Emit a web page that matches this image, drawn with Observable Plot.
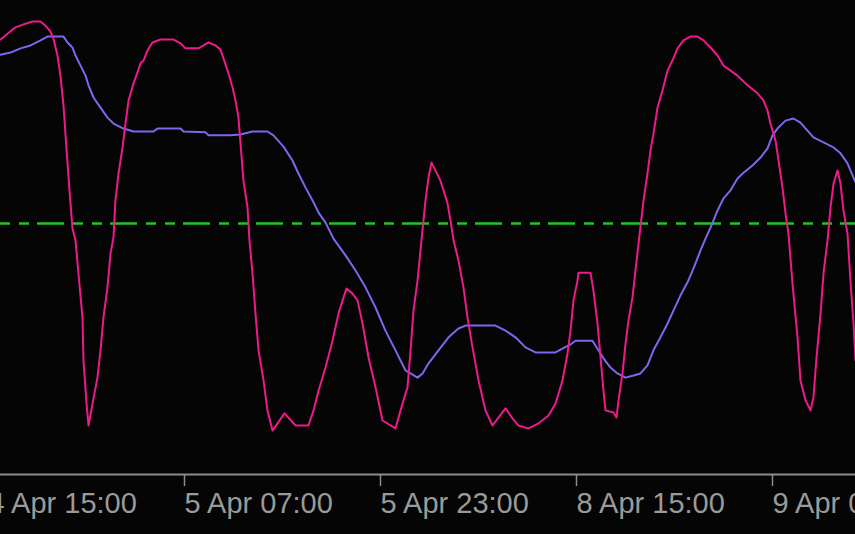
<!DOCTYPE html>
<html>
<head>
<meta charset="utf-8">
<script src="https://cdn.jsdelivr.net/npm/d3@7"></script>
<script src="https://cdn.jsdelivr.net/npm/@observablehq/plot@0.6"></script>
<style>
  html, body { margin: 0; padding: 0; background: #050505; overflow: hidden; }
  #chart svg { display: block; overflow: hidden; }
</style>
</head>
<body>
<div id="chart"></div>
<script>
// x = trading hours since 4 Apr 15:00 (weekend skipped), y = oscillator value
const mainHours = [0.82,1.39,2.04,2.69,3.43,4.08,4.49,4.90,5.14,5.47,5.71,5.96,6.20,6.45,6.69,6.94,7.18,7.51,7.59,7.84,8.00,8.33,8.73,8.98,9.22,9.55,9.80,10.04,10.20,10.45,10.78,11.02,11.27,11.67,12.00,12.24,12.49,12.82,13.22,13.88,14.94,15.51,15.92,16.98,17.39,17.80,18.37,18.78,19.02,19.43,19.76,20.00,20.24,20.41,20.65,20.98,21.14,21.39,21.63,21.88,22.29,22.61,23.02,23.43,24.00,24.90,25.96,26.37,26.78,27.35,27.92,28.41,28.82,29.06,29.55,29.96,30.37,30.86,31.43,32.00,33.06,33.47,34.04,34.29,34.53,34.86,35.10,35.51,35.76,36.00,36.33,36.73,36.98,37.31,37.55,37.80,38.20,38.61,38.94,39.35,39.84,40.41,40.98,41.47,42.04,42.61,43.10,43.92,44.73,45.55,46.12,46.69,47.10,47.35,47.59,47.92,48.00,48.98,49.22,49.55,49.80,50.04,50.20,50.86,51.10,51.27,51.59,51.84,52.08,52.41,52.65,52.90,53.31,53.63,53.88,54.12,54.45,54.86,55.27,55.67,56.08,56.57,57.14,57.71,58.20,58.78,59.35,59.84,60.41,60.98,61.80,62.61,63.10,63.43,63.67,64.08,64.33,64.65,64.90,65.14,65.47,65.88,66.12,66.53,66.94,67.18,67.43,67.76,68.00,68.33,68.57,68.82,69.14,69.39,69.63,69.96,70.20,70.45,70.61];
const mainValues = [93.8,95.2,96.7,97.4,98.1,98.1,97.1,95.7,94.0,90.0,85.2,78.1,67.9,57.9,48.8,46.0,38.1,27.6,17.4,7.1,1.9,7.1,13.3,19.8,27.6,34.8,42.9,46.7,55.5,61.9,68.1,73.8,79.3,83.3,86.0,88.1,88.8,91.2,93.1,93.8,93.8,92.9,91.7,91.7,92.4,93.1,92.4,91.4,89.3,85.7,82.4,79.3,75.2,69.0,60.2,53.8,46.0,38.1,28.6,19.8,12.6,5.5,0.7,2.4,4.8,1.9,1.9,5.5,10.2,15.7,22.1,28.6,32.4,34.5,33.3,31.7,26.2,18.1,11.0,3.1,1.2,5.5,11.0,19.8,29.3,36.4,43.6,55.5,61.0,64.5,62.6,60.2,57.9,54.8,50.7,46.0,41.2,34.8,27.6,20.5,12.6,5.5,1.9,3.8,6.0,3.6,1.9,1.2,2.4,4.3,7.1,12.6,19.0,24.5,31.7,36.4,38.3,38.3,34.0,26.2,18.1,10.2,5.5,5.0,3.8,7.9,14.3,21.4,26.9,32.4,38.8,45.2,55.5,61.9,67.4,71.4,77.6,81.7,86.4,88.8,91.7,93.6,94.5,94.5,93.6,91.9,90.0,87.6,86.4,85.2,82.9,81.0,79.3,76.9,73.8,69.8,65.0,58.6,52.4,47.6,35.7,22.9,12.6,7.9,5.5,8.6,18.1,28.6,38.1,46.0,53.8,59.5,62.6,59.5,53.1,47.6,36.4,26.2,17.4];

const signalHours = [0.82,1.63,2.45,3.27,4.08,4.65,5.96,6.29,6.69,6.94,7.35,7.76,8.00,8.41,8.98,9.55,10.04,10.86,11.67,13.31,13.63,15.51,15.76,17.55,17.80,19.59,20.41,21.39,22.61,23.10,23.92,24.65,25.14,25.71,26.29,26.78,27.35,28.00,28.98,29.80,30.61,31.43,32.24,33.06,33.88,34.29,34.86,35.27,35.76,36.57,37.39,38.20,38.78,41.22,42.04,42.86,43.67,44.49,46.12,46.69,47.35,47.76,49.14,49.55,50.04,50.61,51.18,51.84,52.49,53.06,53.63,54.12,54.69,55.27,55.76,56.33,56.90,57.39,57.96,58.37,58.78,59.35,59.84,60.41,60.98,61.47,62.20,62.86,63.43,63.84,64.24,64.90,65.55,66.12,66.69,67.18,68.00,68.82,69.39,69.96,70.61];
const signalValues = [90.2,90.7,91.7,92.4,93.6,94.5,94.5,93.1,91.9,90.0,87.6,85.2,82.9,80.0,77.6,75.2,73.8,72.6,71.9,71.9,72.6,72.6,71.9,71.7,71.0,71.0,71.2,71.9,71.9,71.0,68.3,65.0,61.9,58.6,55.5,52.6,50.2,46.4,42.4,38.8,34.8,30.0,24.5,19.8,15.0,14.3,13.3,14.3,16.7,19.8,22.9,25.0,25.7,25.7,24.5,22.9,20.5,19.3,19.3,20.2,21.2,22.1,22.1,20.2,17.9,15.7,14.3,13.3,13.8,14.3,16.2,19.8,22.9,26.2,29.3,32.9,36.0,39.3,43.6,46.4,49.0,53.1,56.0,57.9,60.7,62.1,63.8,65.7,67.9,71.0,72.6,74.5,75.0,74.0,72.1,70.5,69.3,68.1,66.7,64.3,59.8];

const levelValue = 50;
const tickHours = [0, 16, 32, 48, 64];
const tickLabels = ["4 Apr 15:00", "5 Apr 07:00", "5 Apr 23:00", "8 Apr 15:00", "9 Apr 07:00"];

const mainData = mainHours.map((t, i) => ({t, v: mainValues[i]}));
const signalData = signalHours.map((t, i) => ({t, v: signalValues[i]}));

const chart = Plot.plot({
  width: 855,
  height: 534,
  marginTop: 0,
  marginLeft: 0,
  marginRight: 0,
  marginBottom: 60,
  style: {background: "#050505", color: "#8c8c8c", overflow: "hidden"},
  x: {domain: [0, 64], range: [-10, 774], axis: null},
  y: {domain: [0, 100], range: [433, 13], axis: null},
  marks: [
    Plot.ruleY([levelValue], {stroke: "#1fc41f", strokeWidth: 2.5, strokeDasharray: "27,9,10,9,10,8", strokeDashoffset: 36}),
    Plot.line(signalData, {x: "t", y: "v", stroke: "#7b68ee", strokeWidth: 2, clip: true}),
    Plot.line(mainData, {x: "t", y: "v", stroke: "#ee1a8a", strokeWidth: 2, clip: true}),
    Plot.frame({anchor: "bottom", stroke: "#8c8c8c", strokeWidth: 2}),
    Plot.axisX({
      anchor: "bottom",
      ticks: tickHours,
      tickFormat: (d) => tickLabels[tickHours.indexOf(d)],
      label: null,
      tickSize: 12,
      tickPadding: 6,
      textAnchor: "start",
      dx: -2,
      fontSize: 29,
      fontFamily: "Liberation Sans, Arial, sans-serif",
      stroke: "#8c8c8c",
      strokeWidth: 1.5,
      fill: "#9a9a9a"
    })
  ]
});
document.getElementById("chart").appendChild(chart);
</script>
</body>
</html>
